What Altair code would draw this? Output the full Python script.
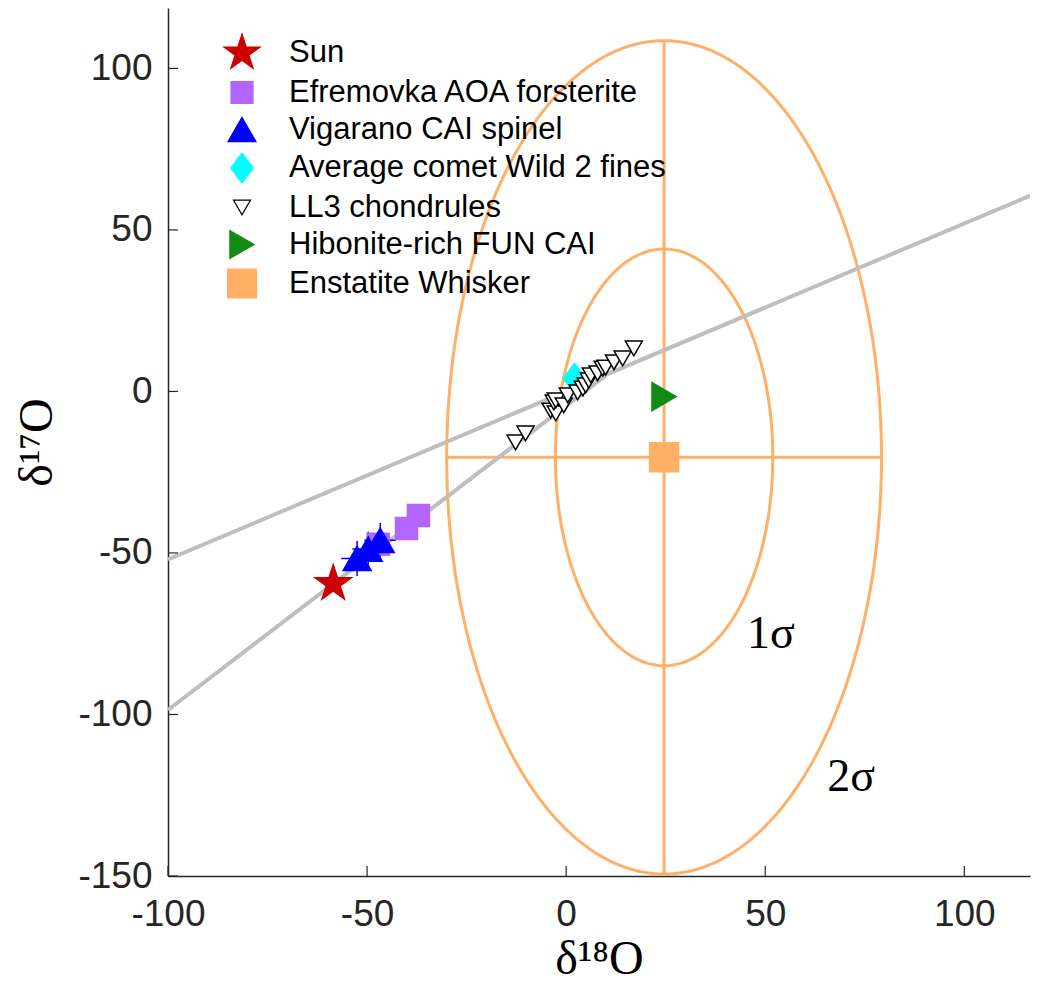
import altair as alt
import pandas as pd
import numpy as np

# ---------------- data ----------------
SERIES = ["Sun", "Efremovka AOA forsterite", "Vigarano CAI spinel",
          "Average comet Wild 2 fines", "LL3 chondrules",
          "Hibonite-rich FUN CAI", "Enstatite Whisker"]

SUN_X = [-58.5]
SUN_Y = [-59.5]
EFR_X = [-37.1, -40.1, -47.2]
EFR_Y = [-38.4, -42.4, -47.3]
VIG_X = [-46.7, -49.7, -52.5]
VIG_Y = [-46.1, -48.8, -51.7]
VIG_XERR = [4.0, 4.0, 4.0]
VIG_YERR = [5.4, 5.4, 5.4]
COMET_X = [2.1]
COMET_Y = [4.0]
LL3_X = [-12.7, -10.2, -3.9, -2.6, -3.1, -2.6, -0.6, 0.4, 2.9, 4.2, 4.9,
         5.7, 6.2, 7.9, 9.2, 9.9, 12.0, 14.2, 17.0]
LL3_Y = [-15.8, -13.0, -5.9, -6.8, -3.4, -2.8, -4.3, -1.2, -0.3, 0.9, 1.9,
         3.4, 5.0, 5.6, 7.1, 7.4, 9.0, 10.2, 13.3]
HIB_X = [24.6]
HIB_Y = [-1.6]
ENS_X = [24.6]
ENS_Y = [-20.4]

# reference lines (endpoints)
TFL_X = [-100, 120]
TFL_Y = [-52.0, 62.4]
CCAM_X = [-100, 10]
CCAM_Y = [-98.6, 5.0]

# error ellipse for the whisker
ELL_CENTER_X = 24.6
ELL_CENTER_Y = -20.4
ELL_SIGMA_X = 27.3
ELL_SIGMA_Y = 64.5
ELL_LEVELS = [1, 2]

SIGMA_LABELS = ["1σ", "2σ"]
SIGMA_LABEL_X = [51.4, 71.6]
SIGMA_LABEL_Y = [-75.2, -119.5]

XTICKS = [-100, -50, 0, 50, 100]
YTICKS = [-150, -100, -50, 0, 50, 100]

# ---------------- styles ----------------
STAR = ("M0,-1L0.2245,-0.309L0.951,-0.309L0.363,0.118L0.588,0.809L0,0.382"
        "L-0.588,0.809L-0.363,0.118L-0.951,-0.309L-0.2245,-0.309Z")
DIAMOND = "M0,-1L0.75,0L0,1L-0.75,0Z"
SHAPES = [STAR, "square", "triangle-up", DIAMOND, "triangle-down",
          "triangle-right", "square"]
FILLS = ["#CC0000", "#B266FF", "#0000FF", "#00FFFF", "#FFFFFF", "#138A13", "#FFB066"]
STROKES = ["#CC0000", "#B266FF", "#0000FF", "#00FFFF", "#000000", "#138A13", "#FFB066"]
SIZES = [1450, 484, 784, 900, 290, 784, 841]
ORANGE = "#FFB066"
GRAY = "#BEBEBE"

W, H = 862, 868
XDOM = [-100, 116.5]
YDOM = [-150, 118.7]

# ---------------- tables ----------------
pts = pd.concat([
    pd.DataFrame({"x": SUN_X, "y": SUN_Y, "s": SERIES[0]}),
    pd.DataFrame({"x": EFR_X, "y": EFR_Y, "s": SERIES[1]}),
    pd.DataFrame({"x": VIG_X, "y": VIG_Y, "s": SERIES[2]}),
    pd.DataFrame({"x": COMET_X, "y": COMET_Y, "s": SERIES[3]}),
    pd.DataFrame({"x": LL3_X, "y": LL3_Y, "s": SERIES[4]}),
    pd.DataFrame({"x": HIB_X, "y": HIB_Y, "s": SERIES[5]}),
    pd.DataFrame({"x": ENS_X, "y": ENS_Y, "s": SERIES[6]}),
], ignore_index=True)
pts["o"] = range(len(pts))

lines = pd.concat([
    pd.DataFrame({"x": TFL_X, "y": TFL_Y, "l": "TFL"}),
    pd.DataFrame({"x": CCAM_X, "y": CCAM_Y, "l": "CCAM"}),
], ignore_index=True)

t = np.linspace(0, 2 * np.pi, 241)
ell = pd.concat([
    pd.DataFrame({"x": ELL_CENTER_X + k * ELL_SIGMA_X * np.cos(t),
                  "y": ELL_CENTER_Y + k * ELL_SIGMA_Y * np.sin(t),
                  "k": k, "i": np.arange(len(t))})
    for k in ELL_LEVELS
], ignore_index=True)

kmax = max(ELL_LEVELS)
cross = pd.DataFrame({
    "x": [ELL_CENTER_X - kmax * ELL_SIGMA_X, ELL_CENTER_X],
    "x2": [ELL_CENTER_X + kmax * ELL_SIGMA_X, ELL_CENTER_X],
    "y": [ELL_CENTER_Y, ELL_CENTER_Y - kmax * ELL_SIGMA_Y],
    "y2": [ELL_CENTER_Y, ELL_CENTER_Y + kmax * ELL_SIGMA_Y],
})

err_rows = []
for xv, yv, ex, ey in zip(VIG_X, VIG_Y, VIG_XERR, VIG_YERR):
    err_rows.append({"x": xv - ex, "x2": xv + ex, "y": yv, "y2": yv})
    err_rows.append({"x": xv, "x2": xv, "y": yv - ey, "y2": yv + ey})
errs = pd.DataFrame(err_rows)

sig = pd.DataFrame({"x": SIGMA_LABEL_X, "y": SIGMA_LABEL_Y, "t": SIGMA_LABELS})
xt = pd.DataFrame({"x": XTICKS})
yt = pd.DataFrame({"y": YTICKS})

# ---------------- encodings ----------------
LBL = "'' + datum.value"
xaxis = alt.Axis(values=XTICKS, title="δ¹⁸O", labelPadding=20, titlePadding=3,
                 labelFlush=False, labelExpr=LBL)
yaxis = alt.Axis(values=YTICKS, title="δ¹⁷O", labelPadding=16, titlePadding=16,
                 labelFlush=False, labelExpr=LBL)
X = alt.X("x:Q", scale=alt.Scale(domain=XDOM, nice=False, zero=False), axis=xaxis)
Y = alt.Y("y:Q", scale=alt.Scale(domain=YDOM, nice=False, zero=False), axis=yaxis)
X2 = alt.X2("x2:Q")
Y2 = alt.Y2("y2:Q")

leg = alt.Legend(title=None, orient="none", legendX=54, legendY=25,
                 labelFont="Liberation Sans", labelFontSize=31,
                 labelColor="black", labelOffset=27, rowPadding=5,
                 padding=0, labelLimit=800, symbolStrokeWidth=1.2,
                 symbolOpacity=1)

ell_layer = alt.Chart(ell).mark_line(color=ORANGE, strokeWidth=3, clip=True).encode(
    x=X, y=Y, detail="k:N", order="i:Q")
cross_layer = alt.Chart(cross).mark_rule(color=ORANGE, strokeWidth=3).encode(
    x=X, y=Y, x2=X2, y2=Y2)
line_layer = alt.Chart(lines).mark_line(color=GRAY, strokeWidth=4, clip=True).encode(
    x=X, y=Y, detail="l:N")
err_layer = alt.Chart(errs).mark_rule(color="#0000FF", strokeWidth=1.5).encode(
    x=X, y=Y, x2=X2, y2=Y2)
pt_layer = alt.Chart(pts).mark_point(filled=True, opacity=1, strokeWidth=1.5).encode(
    x=X, y=Y,
    shape=alt.Shape("s:N", scale=alt.Scale(domain=SERIES, range=SHAPES), legend=leg),
    fill=alt.Fill("s:N", scale=alt.Scale(domain=SERIES, range=FILLS), legend=leg),
    stroke=alt.Stroke("s:N", scale=alt.Scale(domain=SERIES, range=STROKES), legend=leg),
    size=alt.Size("s:N", scale=alt.Scale(type="ordinal", domain=SERIES, range=SIZES),
                  legend=leg),
    order="o:Q",
)
sig_layer = alt.Chart(sig).mark_text(font="Liberation Serif", fontSize=46,
                                     color="black").encode(x=X, y=Y, text="t:N")
xtick_layer = alt.Chart(xt).mark_rule(color="#262626", strokeWidth=1.2).encode(
    x=X, y=alt.value(H), y2=alt.value(H - 10))
ytick_layer = alt.Chart(yt).mark_rule(color="#262626", strokeWidth=1.2).encode(
    y=Y, x=alt.value(0), x2=alt.value(10))

chart = alt.layer(
    ell_layer, cross_layer, line_layer, err_layer, pt_layer, sig_layer,
    xtick_layer, ytick_layer
).properties(
    width=W, height=H,
    autosize=alt.AutoSizeParams(type="none"),
    padding={"left": 160, "top": 0, "right": 1, "bottom": 106},
).configure_view(stroke=None).configure_axis(
    grid=False, ticks=False, tickSize=0,
    domainColor="#262626", domainWidth=1.5,
    labelFont="Liberation Sans", labelFontSize=37, labelColor="#262626",
    titleFont="Liberation Serif", titleFontSize=48, titleFontWeight="normal",
    titleColor="black",
)

chart.save("out.html", embed_options={"renderer": "svg", "actions": False})
